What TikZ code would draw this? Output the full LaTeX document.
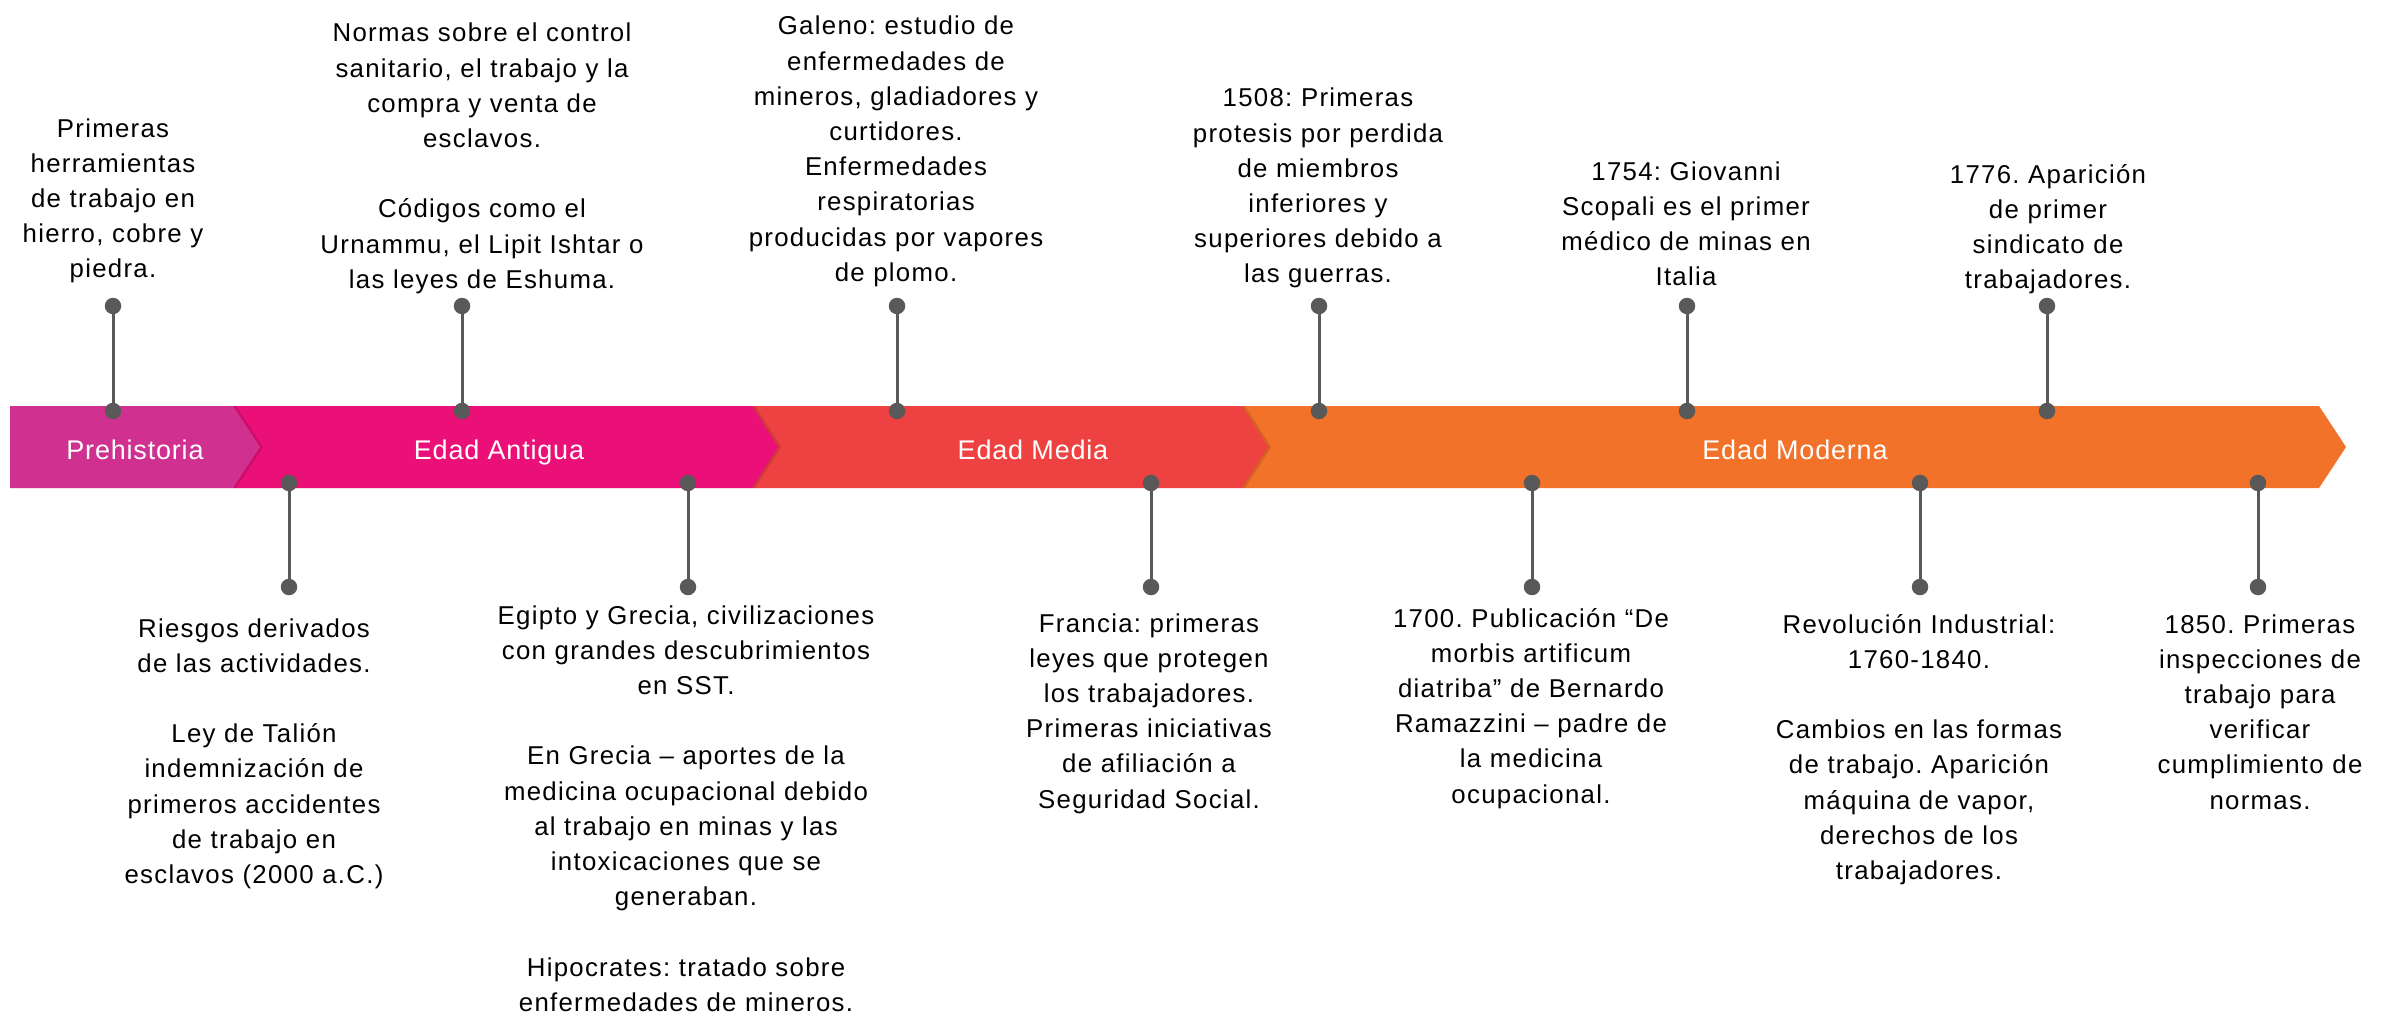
\documentclass[tikz,border=0pt]{standalone}
\usepackage{fontspec}
\newfontfamily\txtfont{Liberation Sans}[LetterSpace=5]
\newfontfamily\bandfont{Liberation Sans}[LetterSpace=3]
\definecolor{cPre}{HTML}{D03190}
\definecolor{cAnt}{HTML}{EB0F78}
\definecolor{cMed}{HTML}{EE4242}
\definecolor{cMod}{HTML}{F27229}
\definecolor{cDot}{HTML}{595959}
\frenchspacing
\begin{document}
\begin{tikzpicture}[x=1pt,y=-1pt,
  txt/.style={anchor=base, text width=470pt, align=center, inner sep=0pt,
    font=\txtfont\frenchspacing\fontsize{25.8pt}{35.2pt}\selectfont, text=black},
  lbl/.style={anchor=base, inner sep=0pt, text=white,
    font=\bandfont\fontsize{27pt}{30pt}\selectfont},
  dot/.style={circle, fill=cDot, inner sep=0pt, minimum size=16.5pt},
  conn/.style={draw=cDot, line width=3pt},
  segshadow/.style={fill=black, opacity=0.13}
]
\useasboundingbox[fill=white] (0,0) rectangle (2392,1014);

% band segments (drawn right to left so each chevron overlaps the next)
\fill[cMod] (1242,406) -- (2319,406) -- (2346,447) -- (2319,488) -- (1242,488) -- cycle;
\fill[segshadow] (752,406) -- (1245,406) -- (1271,447) -- (1245,488) -- (752,488) -- cycle;
\fill[cMed] (752,406) -- (1242,406) -- (1268,447) -- (1242,488) -- (752,488) -- cycle;
\fill[segshadow] (233,406) -- (755,406) -- (781,447) -- (755,488) -- (233,488) -- cycle;
\fill[cAnt] (233,406) -- (752,406) -- (778,447) -- (752,488) -- (233,488) -- cycle;
\fill[segshadow] (10,406) -- (236,406) -- (263,447) -- (236,488) -- (10,488) -- cycle;
\fill[cPre] (10,406) -- (233,406) -- (260,447) -- (233,488) -- (10,488) -- cycle;

% band labels
\node[lbl] (pre) at (135,459) {Prehistoria};
\node[lbl] (ant) at (499,459) {Edad Antigua};
\node[lbl] (med) at (1033,459) {Edad Media};
\node[lbl] (mod) at (1795,459) {Edad Moderna};

% upper markers
\foreach \i/\x in {1/113, 2/462, 3/897, 4/1319, 5/1687, 6/2047}{
  \node[dot] (ut\i) at (\x,306) {};
  \node[dot] (ub\i) at (\x,411) {};
  \draw[conn] (ut\i) -- (ub\i);
}
% lower markers
\foreach \i/\x in {1/289, 2/688, 3/1151, 4/1532, 5/1920, 6/2258}{
  \node[dot] (lt\i) at (\x,483) {};
  \node[dot] (lb\i) at (\x,587) {};
  \draw[conn] (lt\i) -- (lb\i);
}

% upper texts
\node[txt] (t1) at (113,137) {Primeras\\herramientas\\de trabajo en\\hierro, cobre y\\piedra.};
\node[txt] (t2) at (482,42) {Normas sobre el control\\sanitario, el trabajo y la\\compra y venta de\\esclavos.\\[35.2pt]Códigos como el\\Urnammu, el Lipit Ishtar o\\las leyes de Eshuma.};
\node[txt] (t3) at (896,35) {Galeno: estudio de\\enfermedades de\\mineros, gladiadores y\\curtidores.\\Enfermedades\\respiratorias\\producidas por vapores\\de plomo.};
\node[txt] (t4) at (1318,107) {1508: Primeras\\protesis por perdida\\de miembros\\inferiores y\\superiores debido a\\las guerras.};
\node[txt] (t5) at (1686,180) {1754: Giovanni\\Scopali es el primer\\médico de minas en\\Italia};
\node[txt] (t6) at (2048,183) {1776. Aparición\\de primer\\sindicato de\\trabajadores.};

% lower texts
\node[txt] (b1) at (254,637) {Riesgos derivados\\de las actividades.\\[35.2pt]Ley de Talión\\indemnización de\\primeros accidentes\\de trabajo en\\esclavos (2000 a.C.)};
\node[txt] (b2) at (686,624) {Egipto y Grecia, civilizaciones\\con grandes descubrimientos\\en SST.\\[35.2pt]En Grecia – aportes de la\\medicina ocupacional debido\\al trabajo en minas y las\\intoxicaciones que se\\generaban.\\[35.2pt]Hipocrates: tratado sobre\\enfermedades de mineros.};
\node[txt] (b3) at (1149,632) {Francia: primeras\\leyes que protegen\\los trabajadores.\\Primeras iniciativas\\de afiliación a\\Seguridad Social.};
\node[txt] (b4) at (1531,627) {1700. Publicación “De\\morbis artificum\\diatriba” de Bernardo\\Ramazzini – padre de\\la medicina\\ocupacional.};
\node[txt] (b5) at (1919,633) {Revolución Industrial:\\1760-1840.\\[35.2pt]Cambios en las formas\\de trabajo. Aparición\\máquina de vapor,\\derechos de los\\trabajadores.};
\node[txt] (b6) at (2260,633) {1850. Primeras\\inspecciones de\\trabajo para\\verificar\\cumplimiento de\\normas.};
\end{tikzpicture}
\end{document}
